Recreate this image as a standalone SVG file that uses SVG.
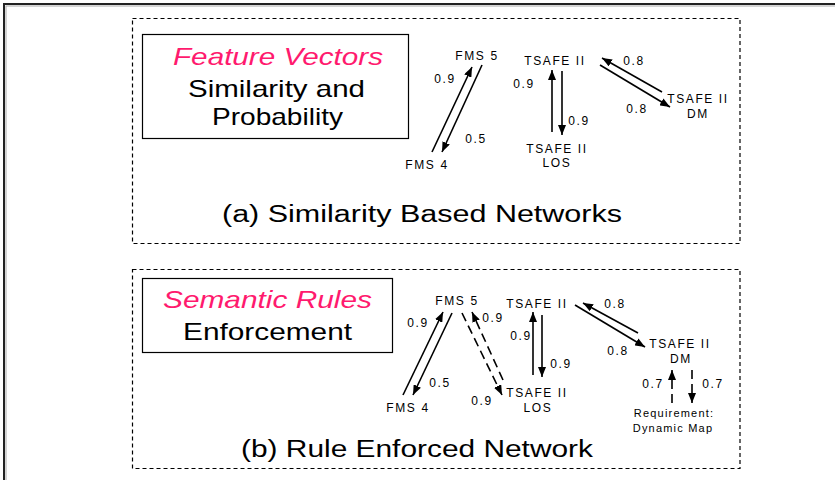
<svg xmlns="http://www.w3.org/2000/svg" width="835" height="480" viewBox="0 0 835 480">
<style>
.frame{fill:none;stroke:#222;stroke-width:2}
.frame2{fill:none;stroke:#aaa;stroke-width:1}
.dbox{fill:none;stroke:#000;stroke-width:1.2;stroke-dasharray:4,3}
.box{fill:#fff;stroke:#000;stroke-width:1.2}
.big{font-family:"Liberation Sans",Arial,sans-serif;font-size:24px;fill:#000}
.pink{font-style:italic;fill:#FF1A6E}
.cap{font-family:"Liberation Sans",Arial,sans-serif;font-size:23px;fill:#000}
.lbl{font-family:"Liberation Sans",Arial,sans-serif;font-size:12px;fill:#000;letter-spacing:1.6px;text-anchor:middle}
.sm{font-size:11px;letter-spacing:1.2px}
.e{stroke:#000;stroke-width:1.6;fill:none;marker-end:url(#ah)}
.d{stroke-dasharray:9,5}
</style>
<defs>
<marker id="ah" viewBox="0 0 10 8" refX="10" refY="4" markerWidth="10" markerHeight="8" markerUnits="userSpaceOnUse" orient="auto">
<path d="M0,0 L10,4 L0,8 z" fill="#000"/>
</marker>
</defs>
<rect width="835" height="480" fill="#fff"/>
<rect class="frame" x="4" y="4" width="840" height="490"/>
<rect class="frame2" x="6" y="6" width="840" height="490"/>

<g id="panel-a">
<rect class="dbox" x="132.5" y="18.5" width="607.5" height="225"/>
<g id="title-a">
<rect class="box" x="142.5" y="34.5" width="266" height="104"/>
<text class="big pink" x="173" y="65" textLength="210" lengthAdjust="spacingAndGlyphs">Feature Vectors</text>
<text class="big" x="188" y="97" textLength="177" lengthAdjust="spacingAndGlyphs">Similarity and</text>
<text class="big" x="212" y="125" textLength="131" lengthAdjust="spacingAndGlyphs">Probability</text>
</g>
<text class="cap" x="222" y="222" textLength="400" lengthAdjust="spacingAndGlyphs">(a) Similarity Based  Networks</text>
<g id="a-fms5"><text class="lbl" x="477" y="60">FMS 5</text></g>
<g id="a-fms4"><text class="lbl" x="427" y="169">FMS 4</text></g>
<g id="a-tsafe"><text class="lbl" x="555" y="65">TSAFE II</text></g>
<g id="a-los"><text class="lbl" x="557" y="153">TSAFE II</text><text class="lbl" x="557" y="167">LOS</text></g>
<g id="a-dm"><text class="lbl" x="698" y="103">TSAFE II</text><text class="lbl" x="698" y="118">DM</text></g>
<g id="a-edges">
<line class="e" x1="432" y1="152" x2="472" y2="67"/>
<line class="e" x1="482" y1="65" x2="442" y2="152"/>
<line class="e" x1="552" y1="132" x2="552" y2="70"/>
<line class="e" x1="562" y1="71" x2="562" y2="135"/>
<line class="e" x1="662" y1="92" x2="602" y2="58"/>
<line class="e" x1="600" y1="65" x2="670" y2="107"/>
<text class="lbl" x="445" y="83">0.9</text>
<text class="lbl" x="476" y="143">0.5</text>
<text class="lbl" x="524" y="88">0.9</text>
<text class="lbl" x="579" y="125">0.9</text>
<text class="lbl" x="634" y="65">0.8</text>
<text class="lbl" x="637" y="113">0.8</text>
</g>
</g>

<g id="panel-b">
<rect class="dbox" x="132.5" y="269.5" width="607.5" height="199"/>
<g id="title-b">
<rect class="box" x="142.5" y="278.5" width="250" height="74"/>
<text class="big pink" x="163" y="308" textLength="209" lengthAdjust="spacingAndGlyphs">Semantic Rules</text>
<text class="big" x="183" y="340" textLength="169" lengthAdjust="spacingAndGlyphs">Enforcement</text>
</g>
<text class="cap" x="241" y="457" textLength="352" lengthAdjust="spacingAndGlyphs">(b) Rule Enforced Network</text>
<g id="b-fms5"><text class="lbl" x="457" y="305">FMS 5</text></g>
<g id="b-fms4"><text class="lbl" x="408" y="412">FMS 4</text></g>
<g id="b-tsafe"><text class="lbl" x="537" y="308">TSAFE II</text></g>
<g id="b-los"><text class="lbl" x="537" y="397">TSAFE II</text><text class="lbl" x="538" y="412">LOS</text></g>
<g id="b-dm"><text class="lbl" x="680" y="348">TSAFE II</text><text class="lbl" x="681" y="363">DM</text></g>
<g id="b-req"><text class="lbl sm" x="674" y="417">Requirement:</text><text class="lbl sm" x="673" y="432">Dynamic Map</text></g>
<g id="b-edges">
<line class="e" x1="403" y1="395" x2="443" y2="312"/>
<line class="e" x1="452" y1="313" x2="413" y2="395"/>
<line class="e d" x1="462" y1="313" x2="502" y2="395"/>
<line class="e d" x1="503" y1="380" x2="472" y2="312"/>
<line class="e" x1="533" y1="375" x2="533" y2="312"/>
<line class="e" x1="542" y1="315" x2="542" y2="377"/>
<line class="e" x1="575" y1="305" x2="645" y2="347"/>
<line class="e" x1="638" y1="333" x2="583" y2="303"/>
<line class="e d" x1="672" y1="403" x2="672" y2="370"/>
<line class="e d" x1="692" y1="370" x2="692" y2="403"/>
<text class="lbl" x="418" y="327">0.9</text>
<text class="lbl" x="493" y="322">0.9</text>
<text class="lbl" x="440" y="387">0.5</text>
<text class="lbl" x="482" y="405">0.9</text>
<text class="lbl" x="521" y="340">0.9</text>
<text class="lbl" x="561" y="368">0.9</text>
<text class="lbl" x="615" y="308">0.8</text>
<text class="lbl" x="618" y="355">0.8</text>
<text class="lbl" x="653" y="388">0.7</text>
<text class="lbl" x="713" y="388">0.7</text>
</g>
</g>
</svg>
